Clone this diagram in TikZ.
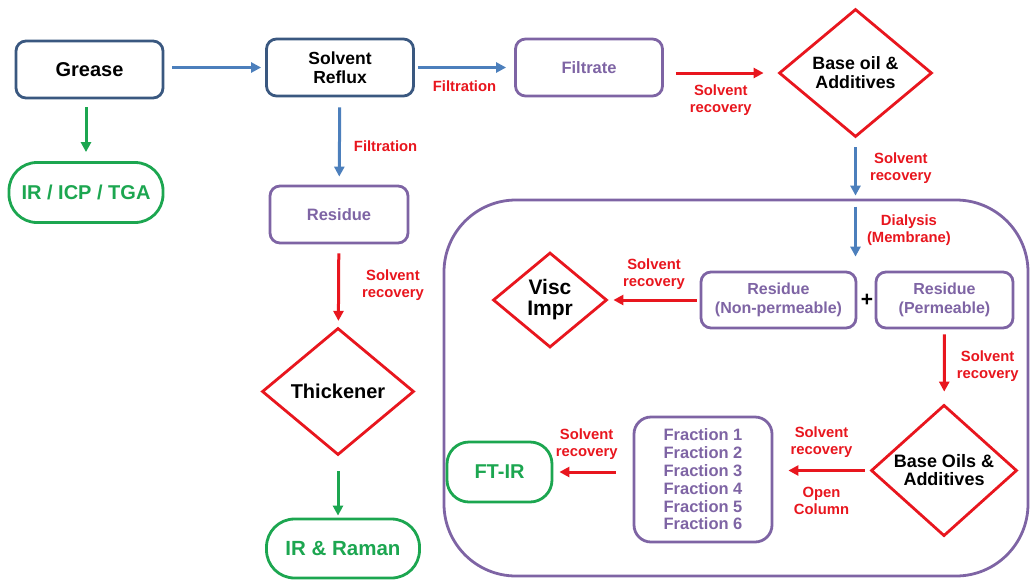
\documentclass[tikz,border=0pt]{standalone}
\usepackage{fontspec}
\setmainfont{Liberation Sans}
\usetikzlibrary{positioning}
\usetikzlibrary{shapes.geometric}
\usetikzlibrary{arrows.meta}
\definecolor{myslate}{RGB}{58,88,128}
\definecolor{myblue}{RGB}{76,127,188}
\definecolor{mypurple}{RGB}{126,100,164}
\definecolor{myred}{RGB}{232,22,30}
\definecolor{mygreen}{RGB}{28,166,80}
\newcommand{\fsize}[2]{\fontsize{#1}{#2}\selectfont}
\newcommand{\widthbox}{147pt}
\newcommand{\heightbox}{57pt}
\newcommand{\lw}{2.8pt}
\tikzset{
    common/.style={draw, line width=\lw, align=center},
    box/.style={common, rectangle, rounded corners=10pt, minimum width=\widthbox, minimum height=\heightbox},
    start/.style={box, draw=myslate},
    sample/.style={box, draw=mypurple, text=mypurple, font=\bfseries\fsize{16.5}{19}},
    analysis/.style={common, draw=mygreen, text=mygreen, rounded corners=28pt, minimum height=60pt, font=\bfseries\fsize{20}{22}},
    product/.style={common, diamond, draw=myred, inner sep=0pt},
    container/.style={draw=mypurple, line width=\lw, rounded corners=72pt, minimum width=584pt, minimum height=376pt},
    flow/.style={->, line width=3pt},
    steplabel/.style={text=myred, font=\bfseries\fsize{14.8}{17}, align=center, inner sep=1pt},
    >={Triangle[length=10pt, width=10pt]},
}

\begin{document}
\begin{tikzpicture}[x=1pt, y=-1pt]
    \useasboundingbox (0,0) rectangle (1030,582);

    \node[container] (dialysis) at (736,388) {};

    \node[start, font=\bfseries\fsize{20}{22}] (grease) at (89.5,69.5) {Grease};
    \node[start, font=\bfseries\fsize{17.5}{19}] (reflux) at (340,67.5) {Solvent\\Reflux};
    \node[sample] (filtrate) at (589,67.5) {Filtrate};
    \node[product, minimum width=153pt, minimum height=128pt, font=\bfseries\fsize{17.8}{19}] (base-oil) at (855.5,73) {Base oil \&\\Additives};
    \node[analysis, minimum width=154pt] (elemental) at (86,192.5) {IR / ICP / TGA};
    \node[sample, minimum width=138pt] (residue) at (339,214.5) {Residue};
    \node[product, minimum width=152pt, minimum height=127pt, font=\bfseries\fsize{20}{22}] (thickener) at (338,391.5) {Thickener};
    \node[analysis, minimum width=153pt, minimum height=59pt, font=\bfseries\fsize{20.5}{22}] (raman) at (343,548.5) {IR \& Raman};

    \node[sample, minimum width=155pt, minimum height=56pt, font=\bfseries\fsize{16}{19}] (residue-np) at (778.5,300) {Residue\\(Non-permeable)};
    \node[sample, minimum width=137pt, minimum height=56pt, font=\bfseries\fsize{16}{19}] (residue-p) at (944.5,300) {Residue\\(Permeable)};
    \node[font=\bfseries\fsize{21}{22}] (plus) at (867,300) {+};
    \node[product, minimum width=114pt, minimum height=95pt, font=\bfseries\fsize{21}{21}] (visc) at (550,300) {Visc\\Impr};
    \node[product, minimum width=146pt, minimum height=127pt, font=\bfseries\fsize{18}{18}] (base-oils) at (944,470.5) {Base Oils \&\\Additives};
    \node[sample, rounded corners=17pt, minimum width=138pt, minimum height=125pt, font=\bfseries\fsize{16.5}{17.8}] (fractions) at (703,479.5)
        {Fraction 1\\Fraction 2\\Fraction 3\\Fraction 4\\Fraction 5\\Fraction 6};
    \node[analysis, rounded corners=22pt, minimum width=105pt] (ftir) at (499.5,472) {FT-IR};

    \draw[flow, myblue, shorten <=8pt, shorten >=4pt] (grease.east |- reflux) -- (reflux.west);
    \draw[flow, myblue, shorten <=3pt, shorten >=8pt] (reflux) -- node[steplabel, below=11pt] {Filtration} (filtrate);
    \draw[flow, myred, shorten <=12pt, shorten >=14pt] (filtrate.east |- base-oil) -- node[steplabel, below=9pt] {Solvent\\recovery} (base-oil.west);
    \draw[flow, myblue, shorten <=9pt, shorten >=3pt] (base-oil) -- node[steplabel, right=12pt] {Solvent\\recovery} (base-oil |- dialysis.north);
    \draw[flow, myblue, shorten <=8pt, shorten >=14pt] (base-oil |- dialysis.north) -- node[steplabel, right=9pt, pos=0.44] {Dialysis\\(Membrane)} (base-oil |- residue-np.north);
    \draw[flow, myred, shorten <=3pt, shorten >=5pt] (residue-np) -- node[steplabel, above=8pt] {Solvent\\recovery} (visc);
    \draw[flow, myred, shorten <=5pt, shorten >=12pt] (residue-p) -- node[steplabel, right=10pt] {Solvent\\recovery} (base-oils);
    \draw[flow, myred, shorten <=5pt, shorten >=15pt] (base-oils.west) -- node[steplabel, above=10pt] {Solvent\\recovery}
        node[steplabel, below=14pt] {Open\\Column} (base-oils.west -| fractions.east);
    \draw[flow, myred, shorten <=17pt, shorten >=6pt] (fractions.west |- ftir) -- node[steplabel, above=10pt, pos=0.58] {Solvent\\recovery} (ftir.east);

    \draw[flow, mygreen, shorten <=8pt, shorten >=9pt] (grease.south -| elemental) -- (elemental.north);
    \draw[flow, myblue, shorten <=10pt, shorten >=8pt] (reflux) -- node[steplabel, right=12pt, pos=0.56] {Filtration} (residue);
    \draw[flow, myred, shorten <=9pt, shorten >=6pt] (residue) -- node[steplabel, right=21pt] {Solvent\\recovery} (thickener);
    \draw[flow, mygreen, shorten <=15pt, shorten >=2pt] (thickener) -- (thickener |- raman.north);
\end{tikzpicture}
\end{document}
